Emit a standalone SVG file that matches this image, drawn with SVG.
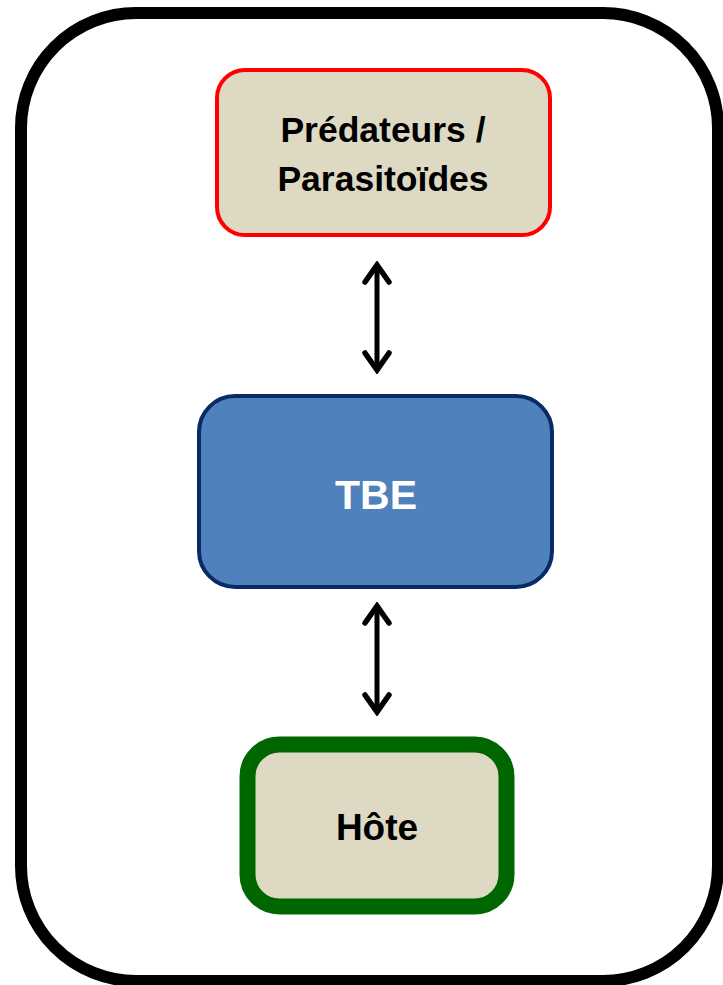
<svg xmlns="http://www.w3.org/2000/svg" width="723" height="985" viewBox="0 0 723 985">
  <style>
    .label { font-family: "Liberation Sans", Arial, sans-serif; font-weight: bold; text-anchor: middle; }
    .dark { fill: #000000; font-size: 37px; }
    .top { font-size: 35.5px; }
    .light { fill: #FFFFFF; font-size: 41px; }
    .link { stroke: #000000; stroke-width: 5; fill: none; }
  </style>
  <defs>
    <marker id="head" markerUnits="userSpaceOnUse" viewBox="-22 -16 26 32" refX="0" refY="0" markerWidth="26" markerHeight="32" orient="auto-start-reverse">
      <path d="M-17,-12 L0,0 L-17,12" fill="none" stroke="#000000" stroke-width="5.5" stroke-linecap="round" stroke-linejoin="miter"/>
    </marker>
  </defs>

  <!-- outer frame -->
  <rect id="frame" x="21" y="13" width="697" height="968" rx="115" ry="115" fill="#FFFFFF" stroke="#000000" stroke-width="12"/>

  <g id="predateurs">
    <rect x="217" y="70" width="333" height="165" rx="28" ry="28" fill="#DDD9C3" stroke="#FF0000" stroke-width="4"/>
    <text class="label dark top" x="383" y="142">Prédateurs /</text>
    <text class="label dark top" x="383" y="191">Parasitoïdes</text>
  </g>

  <g id="tbe">
    <rect x="199" y="396" width="353" height="191" rx="36" ry="36" fill="#4F81BD" stroke="#0A2A66" stroke-width="4"/>
    <text class="label light" x="376" y="509">TBE</text>
  </g>

  <g id="hote">
    <rect x="247.5" y="744.5" width="259" height="162" rx="32" ry="32" fill="#DDD9C3" stroke="#006600" stroke-width="16"/>
    <text class="label dark" x="377" y="840">Hôte</text>
  </g>

  <g id="connectors">
    <line class="link" x1="377" y1="265" x2="377" y2="370" marker-start="url(#head)" marker-end="url(#head)"/>
    <line class="link" x1="377" y1="606" x2="377" y2="712" marker-start="url(#head)" marker-end="url(#head)"/>
  </g>
</svg>
